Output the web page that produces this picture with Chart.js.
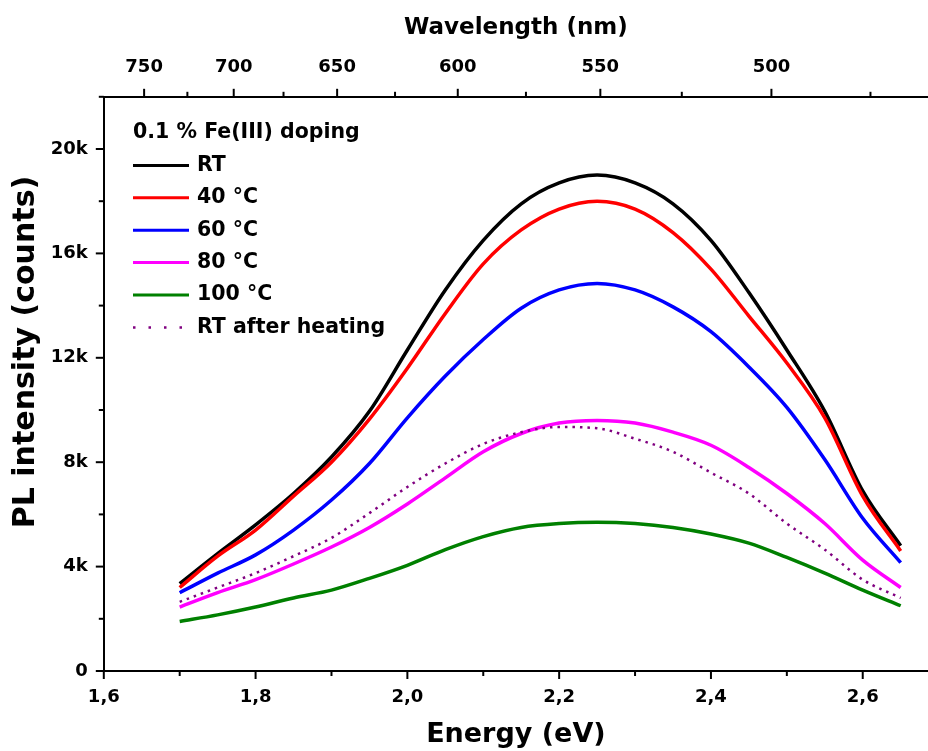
<!DOCTYPE html>
<html>
<head>
<meta charset="utf-8">
<script src="https://cdn.jsdelivr.net/npm/chart.js@4.4.0/dist/chart.umd.min.js"></script>
<style>
    html, body { margin: 0; padding: 0; background: #fff; }
    #wrap { width: 928px; height: 751px; }
</style>
</head>
<body>
<div id="wrap"><canvas id="plChart"></canvas></div>
<script>
// 数据（从图中读取，单位：counts）
const energy = [1.70, 1.75, 1.80, 1.85, 1.90, 1.95, 2.00, 2.05, 2.10, 2.15, 2.20, 2.25, 2.30, 2.35, 2.40, 2.45, 2.50, 2.55, 2.60, 2.65];
const plRT      = [3350, 4500, 5600, 6800, 8200, 9950, 12300, 14600, 16500, 17900, 18700, 19000, 18700, 17900, 16500, 14500, 12300, 9950, 6900, 4800];
const pl40      = [3200, 4400, 5400, 6700, 8000, 9650, 11600, 13700, 15600, 16900, 17700, 18000, 17700, 16800, 15400, 13600, 11800, 9700, 6700, 4600];
const pl60      = [3000, 3750, 4450, 5400, 6550, 7950, 9700, 11300, 12700, 13900, 14600, 14850, 14600, 13950, 13000, 11650, 10100, 8100, 5850, 4150];
const pl80      = [2450, 3000, 3500, 4100, 4750, 5500, 6400, 7400, 8400, 9100, 9500, 9600, 9500, 9150, 8650, 7800, 6800, 5650, 4250, 3200];
const pl100     = [1900, 2150, 2450, 2800, 3100, 3550, 4050, 4650, 5150, 5500, 5650, 5700, 5650, 5500, 5250, 4900, 4350, 3750, 3100, 2500];
const plRTafter = [2650, 3200, 3750, 4400, 5100, 6050, 7050, 7950, 8700, 9150, 9350, 9300, 8900, 8400, 7600, 6800, 5650, 4650, 3500, 2800];

// 刻度
const energyTicks = [1.6, 1.8, 2.0, 2.2, 2.4, 2.6];
const energyMinor = [1.7, 1.9, 2.1, 2.3, 2.5];
const intensityTicks = [0, 4000, 8000, 12000, 16000, 20000];
const intensityMinor = [2000, 6000, 10000, 14000, 18000, 22000];
const wavelengthTicks = [750, 700, 650, 600, 550, 500];
const wavelengthMinor = [725, 675, 625, 575, 525, 475];
const HC = 1239.84; // eV·nm

const series = [
    { label: 'RT', data: plRT, color: '#000000' },
    { label: '40 °C', data: pl40, color: '#ff0000' },
    { label: '60 °C', data: pl60, color: '#0000ff' },
    { label: '80 °C', data: pl80, color: '#ff00ff' },
    { label: '100 °C', data: pl100, color: '#008000' },
    { label: 'RT after heating', data: plRTafter, color: '#800080', dotted: true }
];

Chart.defaults.font.family = '"DejaVu Sans", sans-serif';
Chart.defaults.font.weight = 'bold';
Chart.defaults.color = '#000';

// 刻度线
const tickMarks = {
    id: 'tickMarks',
    afterDraw(chart) {
        const { ctx, chartArea, scales } = chart;
        ctx.save();
        ctx.strokeStyle = '#000';
        ctx.lineWidth = 2;
        const line = (x1, y1, x2, y2) => {
            ctx.beginPath();
            ctx.moveTo(x1, y1);
            ctx.lineTo(x2, y2);
            ctx.stroke();
        };
        energyTicks.forEach(v => {
            const px = scales.x.getPixelForValue(v);
            line(px, chartArea.bottom, px, chartArea.bottom + 8);
        });
        energyMinor.forEach(v => {
            const px = scales.x.getPixelForValue(v);
            line(px, chartArea.bottom, px, chartArea.bottom + 5);
        });
        wavelengthTicks.forEach(w => {
            const px = scales.x2.getPixelForValue(HC / w);
            line(px, chartArea.top, px, chartArea.top - 8);
        });
        wavelengthMinor.forEach(w => {
            const px = scales.x2.getPixelForValue(HC / w);
            line(px, chartArea.top, px, chartArea.top - 5);
        });
        intensityTicks.forEach(v => {
            const py = scales.y.getPixelForValue(v);
            line(chartArea.left, py, chartArea.left - 8, py);
        });
        intensityMinor.forEach(v => {
            const py = scales.y.getPixelForValue(v);
            line(chartArea.left, py, chartArea.left - 5, py);
        });
        ctx.restore();
    }
};

// 纵轴标题
const yTitle = {
    id: 'yTitle',
    afterDraw(chart) {
        const { ctx } = chart;
        ctx.save();
        ctx.translate(26, 352);
        ctx.rotate(-Math.PI / 2);
        ctx.font = 'bold 30px "DejaVu Sans", sans-serif';
        ctx.fillStyle = '#000';
        ctx.textAlign = 'center';
        ctx.textBaseline = 'middle';
        ctx.fillText('PL intensity (counts)', 0, 0);
        ctx.restore();
    }
};

// 图例
const plotLegend = {
    id: 'plotLegend',
    afterDraw(chart) {
        const { ctx } = chart;
        const x0 = 133, lineLen = 56, textX = 197, y0 = 133, rowH = 32.4;
        ctx.save();
        ctx.font = 'bold 20.5px "DejaVu Sans", sans-serif';
        ctx.fillStyle = '#000';
        ctx.textBaseline = 'middle';
        ctx.fillText('0.1 % Fe(III) doping', x0, y0);
        chart.data.datasets.forEach((ds, i) => {
            const y = y0 + rowH * (i + 1);
            ctx.strokeStyle = ds.borderColor;
            ctx.lineWidth = ds.dotted ? 2.5 : 3;
            ctx.setLineDash(ds.dotted ? [2.5, 13] : []);
            ctx.beginPath();
            ctx.moveTo(x0, y);
            ctx.lineTo(x0 + lineLen, y);
            ctx.stroke();
            ctx.setLineDash([]);
            ctx.fillText(ds.label, textX, y);
        });
        ctx.restore();
    }
};

new Chart(document.getElementById('plChart'), {
    type: 'line',
    data: {
        datasets: series.map((s, i) => ({
            label: s.label,
            data: energy.map((e, j) => ({ x: e, y: s.data[j] })),
            borderColor: s.color,
            backgroundColor: s.color,
            borderWidth: s.dotted ? 2.5 : 3.5,
            borderDash: s.dotted ? [2.5, 5] : [],
            dotted: !!s.dotted,
            pointRadius: 0,
            cubicInterpolationMode: 'monotone',
            fill: false,
            order: series.length - i
        }))
    },
    options: {
        responsive: true,
        maintainAspectRatio: false,
        animation: false,
        layout: { padding: 0 },
        plugins: {
            legend: { display: false },
            tooltip: { enabled: false }
        },
        scales: {
            x: {
                type: 'linear',
                position: 'bottom',
                min: 1.6,
                max: 2.686,
                afterFit(scale) { scale.height = 80; },
                afterBuildTicks(scale) {
                    scale.ticks = energyTicks.map(v => ({ value: v }));
                },
                grid: { display: false, drawTicks: false },
                border: { display: true, color: '#000', width: 2 },
                ticks: {
                    padding: 16,
                    maxRotation: 0,
                    autoSkip: false,
                    font: { size: 18, weight: 'bold' },
                    callback: v => v.toFixed(1).replace('.', ',')
                },
                title: {
                    display: true,
                    text: 'Energy (eV)',
                    font: { size: 27, weight: 'bold' },
                    padding: { top: 0, bottom: 0 }
                }
            },
            x2: {
                type: 'linear',
                position: 'top',
                min: 1.6,
                max: 2.686,
                afterFit(scale) { scale.height = 96.8; },
                afterBuildTicks(scale) {
                    scale.ticks = wavelengthTicks.map(w => ({ value: HC / w }));
                },
                grid: { display: false, drawTicks: false },
                border: { display: true, color: '#000', width: 2 },
                ticks: {
                    padding: 19,
                    maxRotation: 0,
                    autoSkip: false,
                    font: { size: 18, weight: 'bold' },
                    callback: v => Math.round(HC / v)
                },
                title: {
                    display: true,
                    text: 'Wavelength (nm)',
                    font: { size: 23, weight: 'bold' },
                    padding: { top: 14, bottom: 0 }
                }
            },
            y: {
                type: 'linear',
                position: 'left',
                min: 0,
                max: 22000,
                afterFit(scale) { scale.width = 103.8; },
                afterBuildTicks(scale) {
                    scale.ticks = intensityTicks.map(v => ({ value: v }));
                },
                grid: { display: false, drawTicks: false },
                border: { display: true, color: '#000', width: 2 },
                ticks: {
                    padding: 16,
                    autoSkip: false,
                    font: { size: 18, weight: 'bold' },
                    callback: v => v === 0 ? '0' : (v / 1000) + 'k'
                },
                title: { display: false }
            }
        }
    },
    plugins: [tickMarks, yTitle, plotLegend]
});
</script>
</body>
</html>
